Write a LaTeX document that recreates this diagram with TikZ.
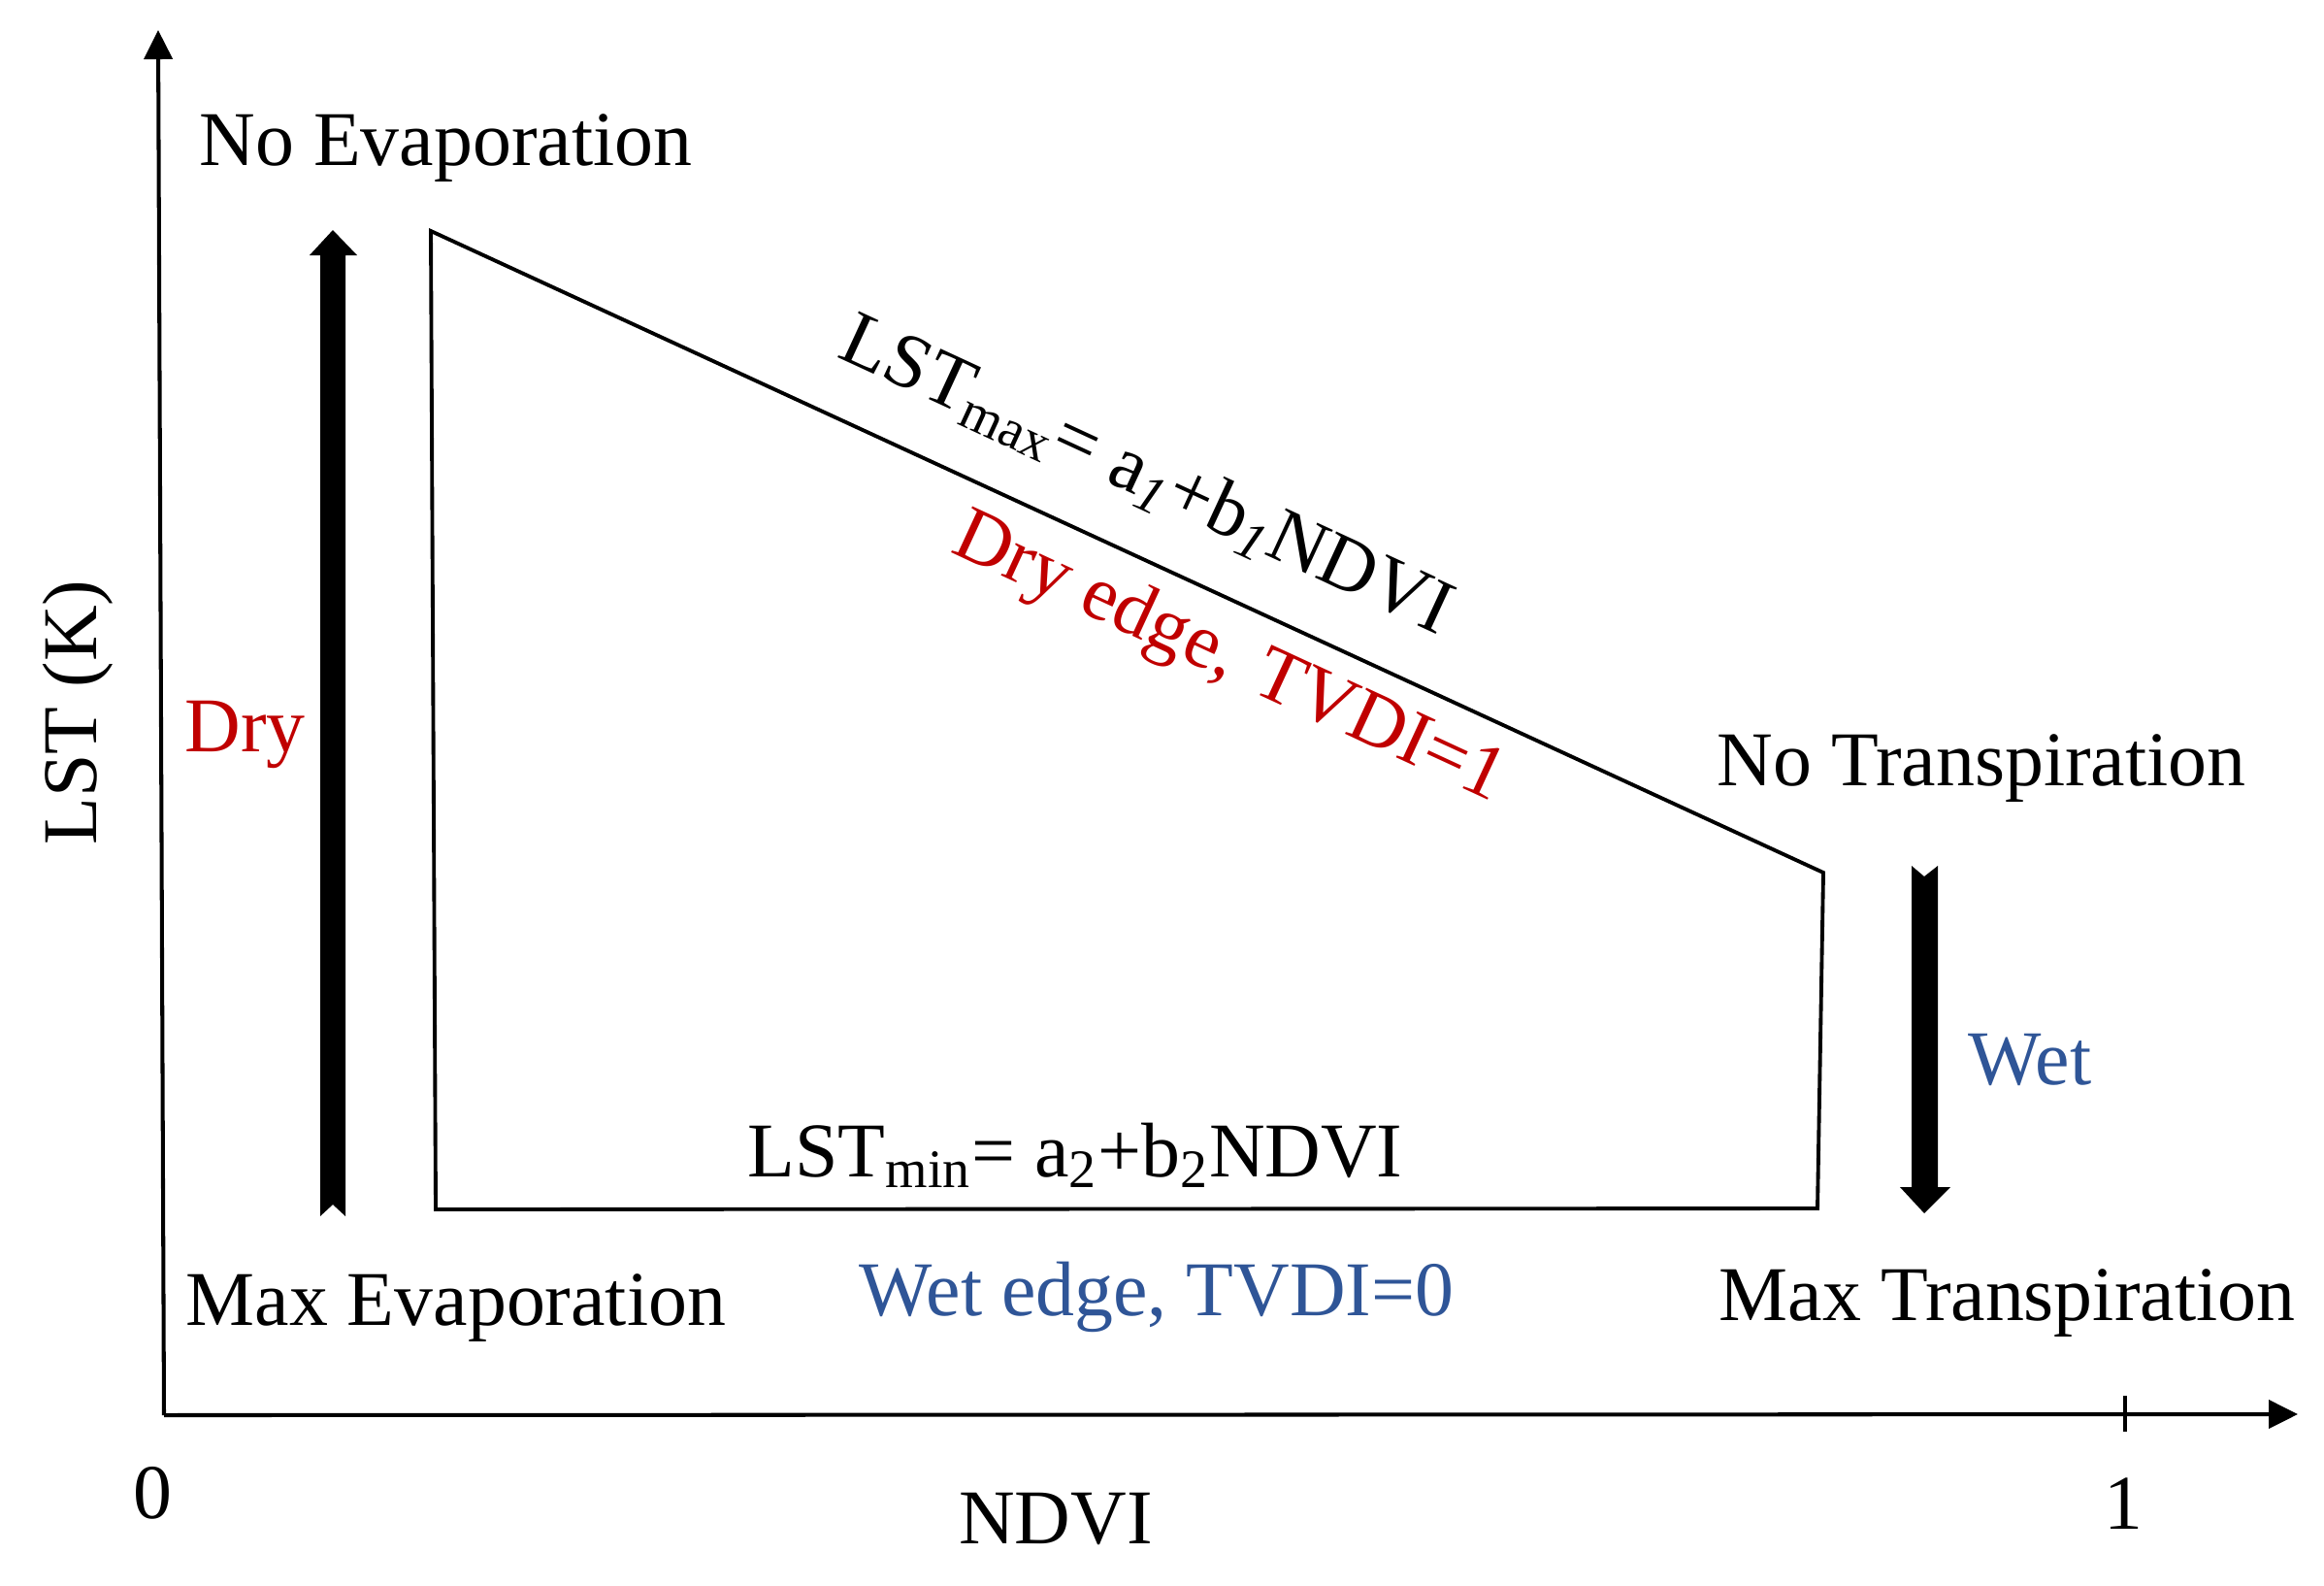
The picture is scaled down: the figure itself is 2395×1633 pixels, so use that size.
\documentclass[tikz,border=0pt]{standalone}
\usepackage{fontspec}
\setmainfont{Liberation Serif}
\usepackage{tikz}
\usetikzlibrary{arrows.meta}
\definecolor{dryred}{HTML}{C00000}
\definecolor{wetblue}{HTML}{2F5597}
\newcommand{\LSTmax}{LST\textsubscript{max}= a\textsubscript{\textit{1}}+b\textsubscript{\textit{1}}NDVI}
\newcommand{\LSTmin}{LST\textsubscript{min}= a\textsubscript{2}+b\textsubscript{2}NDVI}

\begin{document}
\begin{tikzpicture}[x=0.01cm,y=-0.01cm,>={Triangle[length=0.3cm,width=0.29cm]},
		lbl/.style={font=\fontsize{22.7}{27}\selectfont,inner sep=0pt},
		axis/.style={line width=1.15pt},
		edgeline/.style={line width=1.1pt,line join=miter}]
		\useasboundingbox (0,0) rectangle (2395,1633);
		
		\coordinate (origin) at (169,1458);
		\coordinate (ytip)   at (163,31);
		\coordinate (xtip)   at (2368,1457);
		\coordinate (tickOne) at (2190,1457);
		
		\coordinate (tl) at (444,238);
		\coordinate (tr) at (1879,899);
		\coordinate (br) at (1873,1245);
		\coordinate (bl) at (449,1246);
		
		\draw[axis,->] (origin) -- (ytip);
		\draw[axis,->] (origin) -- (xtip);
		\draw[axis] (tickOne) ++(0,-19) -- ++(0,37);
		
		\draw[edgeline] (tl) -- (tr) -- (br) -- (bl) -- cycle;
		
		\fill (330,1253) -- (343,1241) -- (356,1253) -- (356,263) -- (368,263)
			-- (343,237) -- (319,263) -- (330,263) -- cycle;
		\fill (1970,892) -- (1983,903) -- (1997,892) -- (1997,1223) -- (2010,1223)
			-- (1983,1250) -- (1958,1223) -- (1970,1223) -- cycle;
		
		\node[lbl,anchor=base west] (noEvap)    at (205,170)  {No Evaporation};
		\node[lbl,anchor=base west] (maxEvap)   at (191,1365) {Max Evaporation};
		\node[lbl,anchor=base west] (noTransp)  at (1769,809) {No Transpiration};
		\node[lbl,anchor=base west] (maxTransp) at (1771,1360) {Max Transpiration};
		\node[lbl,anchor=base west,text=dryred]  (dry) at (190,774)  {Dry};
		\node[lbl,anchor=base west,text=wetblue] (wet) at (2028,1117) {Wet};
		
		\node[lbl,anchor=base west,rotate=-24.8] (lstMax) at (861,367) {\LSTmax};
		\node[lbl,anchor=base west,rotate=-24.8,text=dryred] (dryEdge) at (978,568) {Dry edge,\hspace{0.32em}TVDI=1};
		\node[lbl,anchor=base west] (lstMin) at (770,1212) {\LSTmin};
		\node[lbl,anchor=base west,text=wetblue] (wetEdge) at (885,1355) {Wet edge, TVDI=0};
		
		\node[lbl,anchor=base] (zero) at (157,1564) {0};
		\node[lbl,anchor=base] (one)  at (2188,1575) {1};
		\node[lbl,anchor=base] (ndvi) at (1088,1590) {NDVI};
		\node[lbl,rotate=90] (lstK) at (80,734) {LST (K)};
\end{tikzpicture}
\end{document}
